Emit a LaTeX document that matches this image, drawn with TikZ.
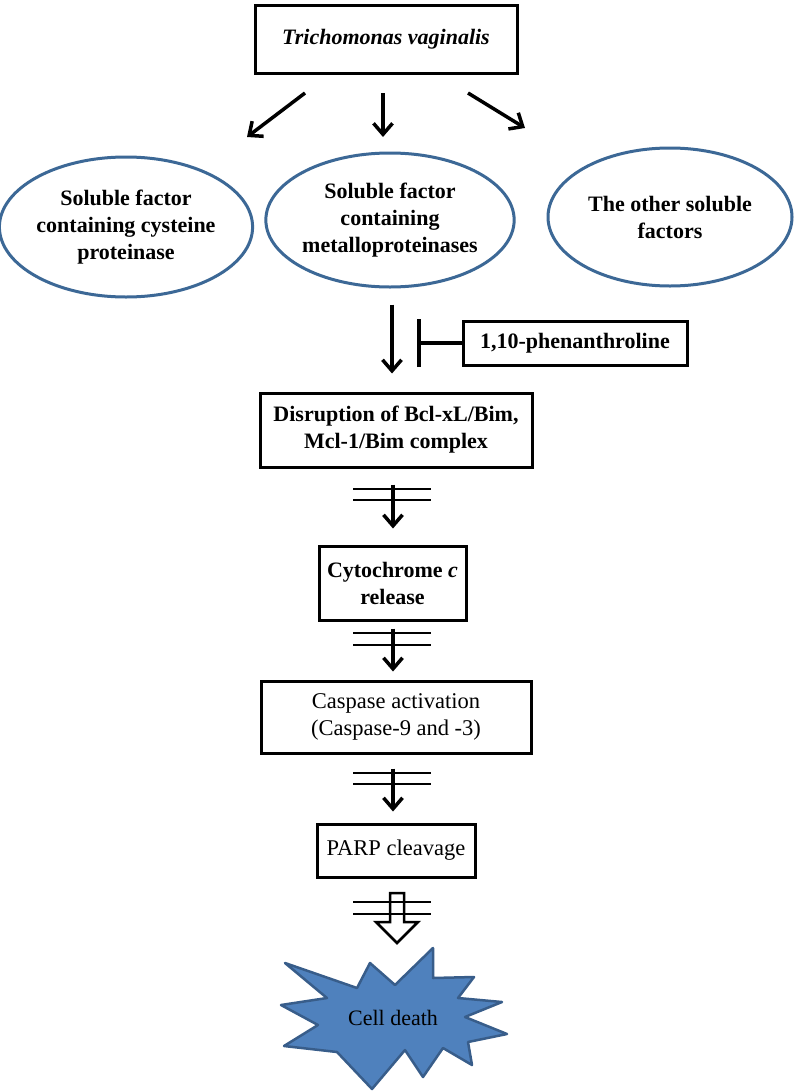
\documentclass[tikz,border=0pt]{standalone}
\usepackage{fontspec}
\setmainfont{Liberation Serif}
\usetikzlibrary{arrows.meta,shapes.geometric}
\definecolor{ellblue}{HTML}{3C6896}
\definecolor{starfill}{HTML}{4F81BD}
\definecolor{starline}{HTML}{385D8A}
\begin{document}
\begin{tikzpicture}[x=1pt,y=-1pt,
  boxb/.style={draw, line width=3pt, align=center, inner sep=0pt,
    font=\fontsize{22}{27}\selectfont\bfseries},
  boxr/.style={draw, line width=3pt, align=center, inner sep=0pt,
    font=\fontsize{22.5}{27.5}\selectfont},
  ell/.style={draw=ellblue, line width=3pt, ellipse, align=center, inner sep=0pt,
    font=\fontsize{22}{27}\selectfont\bfseries},
  arr/.style={line width=3.5pt, -{Straight Barb[length=11pt,width=19pt,line width=3.5pt]}},
  dbl/.style={line width=1.5pt},
  inhib/.style={line width=4pt, -{Bar[width=48pt,line width=4.5pt]}},
  hollow/.style={draw, line width=2.5pt, fill=white, line join=miter}
]
\useasboundingbox (0,0) rectangle (797,1092);
\fill[white] (0,0) rectangle (797,1092);

% top
\node[boxb, minimum width=262pt, minimum height=68pt] (top) at (386,39) {\itshape Trichomonas vaginalis};

% ellipses
\node[ell, minimum width=244pt, minimum height=140pt] (ell1) at (126,227)
  {Soluble factor\\containing cysteine\\proteinase};
\node[ell, minimum width=234pt, minimum height=134pt] (ell2) at (390,220)
  {Soluble factor\\containing\\metalloproteinases};
\node[ell, minimum width=244pt, minimum height=138pt] (ell3) at (670,217)
  {The other soluble\\factors};

% top arrows
\coordinate (a1s) at (305,93); \coordinate (a1e) at (247,137);
\coordinate (a2s) at (383,93); \coordinate (a2e) at (383,137);
\coordinate (a3s) at (468,93); \coordinate (a3e) at (525,128);
\draw[arr] (a1s) -- (a1e);
\draw[arr] (a2s) -- (a2e);
\draw[arr] (a3s) -- (a3e);

% inhibitor
\node[boxb, minimum width=224pt, minimum height=44pt] (phen) at (575,343) {1,10-phenanthroline};
\coordinate (col) at (392,0);
\coordinate (col2) at (393,0);

% pathway boxes
\node[boxb, minimum width=272pt, minimum height=74pt] (dis) at (396,430)
  {Disruption of Bcl-xL/Bim,\\Mcl-1/Bim complex};
\node[boxb, minimum width=147pt, minimum height=74pt] (cyt) at (392.5,583)
  {Cytochrome \textit{c}\\release};
\node[boxr, minimum width=270pt, minimum height=72pt] (cas) at (396,717)
  {Caspase activation\\(Caspase-9 and -3)};
\node[boxr, minimum width=158pt, minimum height=53pt] (parp) at (396,850.5)
  {PARP cleavage};

\draw[arr, shorten <=16pt, shorten >=18pt] (ell2.south -| col) -- (dis.north -| col);
\draw[inhib] (phen.west) -- ++(-45,0);

\draw[arr, shorten <=16pt, shorten >=16pt] (dis.south -| col2) -- (cyt.north -| col2);
\draw[arr, shorten <=7pt, shorten >=8pt] (cyt.south -| col2) -- (cas.north -| col2);
\draw[arr, shorten <=14pt, shorten >=11pt] (cas.south -| col2) -- (parp.north -| col2);

% star
\filldraw[fill=starfill, draw=starline, line width=2.5pt, line join=round]
  (285,963) -- (357,988) -- (370,963) -- (395,985) -- (433,948) -- (433,978)
  -- (474,977) -- (458,998) -- (502,1002) -- (465,1017) -- (507,1034)
  -- (468,1042) -- (472,1065) -- (443,1048) -- (423,1077) -- (405,1050)
  -- (372,1089) -- (337,1052) -- (284,1046) -- (318,1025) -- (281,1005)
  -- (327,998) -- cycle;
\node[font=\fontsize{22}{27}\selectfont, inner sep=0pt] (death) at (393,1018) {Cell death};

% hollow arrow
\draw[hollow] (390,893) -- (404,893) -- (404,922) -- (418,922) -- (397,943)
  -- (376,922) -- (390,922) -- cycle;

% double lines
\foreach \ya/\yb in {489/500, 633/645, 773/784, 902/914}{
  \draw[dbl] (353,\ya) -- (431,\ya);
  \draw[dbl] (353,\yb) -- (431,\yb);
}
\end{tikzpicture}
\end{document}
